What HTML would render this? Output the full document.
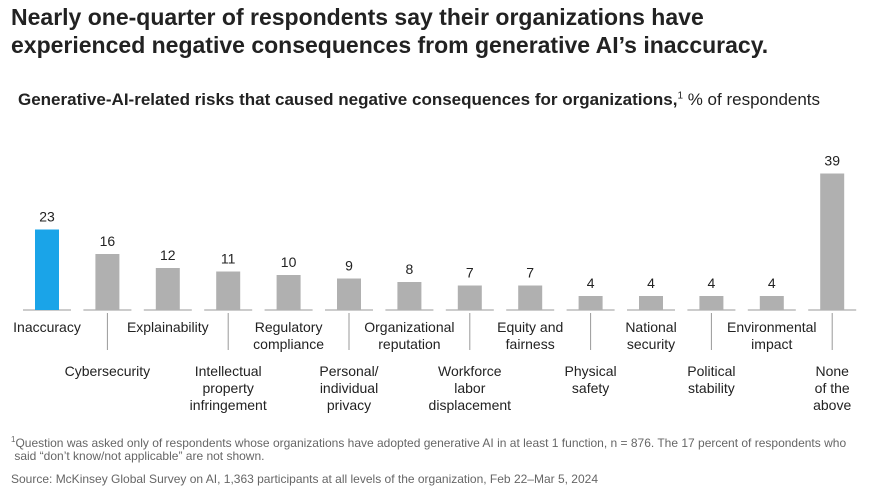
<!DOCTYPE html>
<html><head><meta charset="utf-8"><style>
body{margin:0;width:876px;height:501px;background:#fff;font-family:"Liberation Sans",sans-serif;color:#1a1a1a;position:relative;overflow:hidden}
.t{position:absolute;left:11px;top:3px;font-size:23px;font-weight:bold;line-height:28px;color:#222}
.s{position:absolute;left:18px;top:90px;font-size:17px;color:#222}
.f{position:absolute;left:11px;font-size:12px;color:#666;line-height:13px}
</style></head><body>
<div class="t">Nearly one-quarter of respondents say their organizations have<br>experienced negative consequences from generative AI’s inaccuracy.</div>
<div class="s"><b>Generative-AI-related risks that caused negative consequences for organizations,</b><sup style="font-size:10px">1</sup> % of respondents</div>
<svg id="c" width="876" height="430" style="position:absolute;left:0;top:0"></svg>
<div class="f" style="top:433px"><sup style="font-size:8px">1</sup>Question was asked only of respondents whose organizations have adopted generative AI in at least 1 function, n = 876. The 17 percent of respondents who<br>&nbsp;said “don’t know/not applicable” are not shown.</div>
<div class="f" style="top:473px">Source: McKinsey Global Survey on AI, 1,363 participants at all levels of the organization, Feb 22–Mar 5, 2024</div>
<script>
const categories=[["Inaccuracy"],["Cybersecurity"],["Explainability"],["Intellectual","property","infringement"],["Regulatory","compliance"],["Personal/","individual","privacy"],["Organizational","reputation"],["Workforce","labor","displacement"],["Equity and","fairness"],["Physical","safety"],["National","security"],["Political","stability"],["Environmental","impact"],["None","of the","above"]];
const values=[23,16,12,11,10,9,8,7,7,4,4,4,4,39];
const svg=document.getElementById('c');const NS='http://www.w3.org/2000/svg';
const base=310,scale=3.5,x0=47,step=60.4,bw=24;
function xs(i){return x0+i*step}
function ys(v){return base-v*scale}
function mk(t,a,name){const e=document.createElementNS(NS,t);for(const k in a)e.setAttribute(k,a[k]);


svg.appendChild(e);return e}
values.forEach((v,i)=>{const cx=xs(i);
mk('line',{x1:cx-24,x2:cx+24,y1:base,y2:base,stroke:'#999','stroke-width':1},'baseline-segment');
mk('rect',{x:cx-bw/2,y:ys(v),width:bw,height:v*scale,fill:i==0?'#1aa4e8':'#b0b0b0'},'bar-'+i);
const t=mk('text',{x:cx,y:ys(v)-8,'text-anchor':'middle','font-size':14,fill:'#222'},'value-label');t.textContent=v;
const odd=i%2==1;
if(odd)mk('line',{x1:cx,x2:cx,y1:base+3,y2:base+40,stroke:'#999','stroke-width':1},'label-connector');
const y0=odd?376:332;
categories[i].forEach((l,j)=>{const tt=mk('text',{x:cx,y:y0+j*17,'text-anchor':'middle','font-size':14,fill:'#222'},'category-label');tt.textContent=l;});
});
</script>
</body></html>
